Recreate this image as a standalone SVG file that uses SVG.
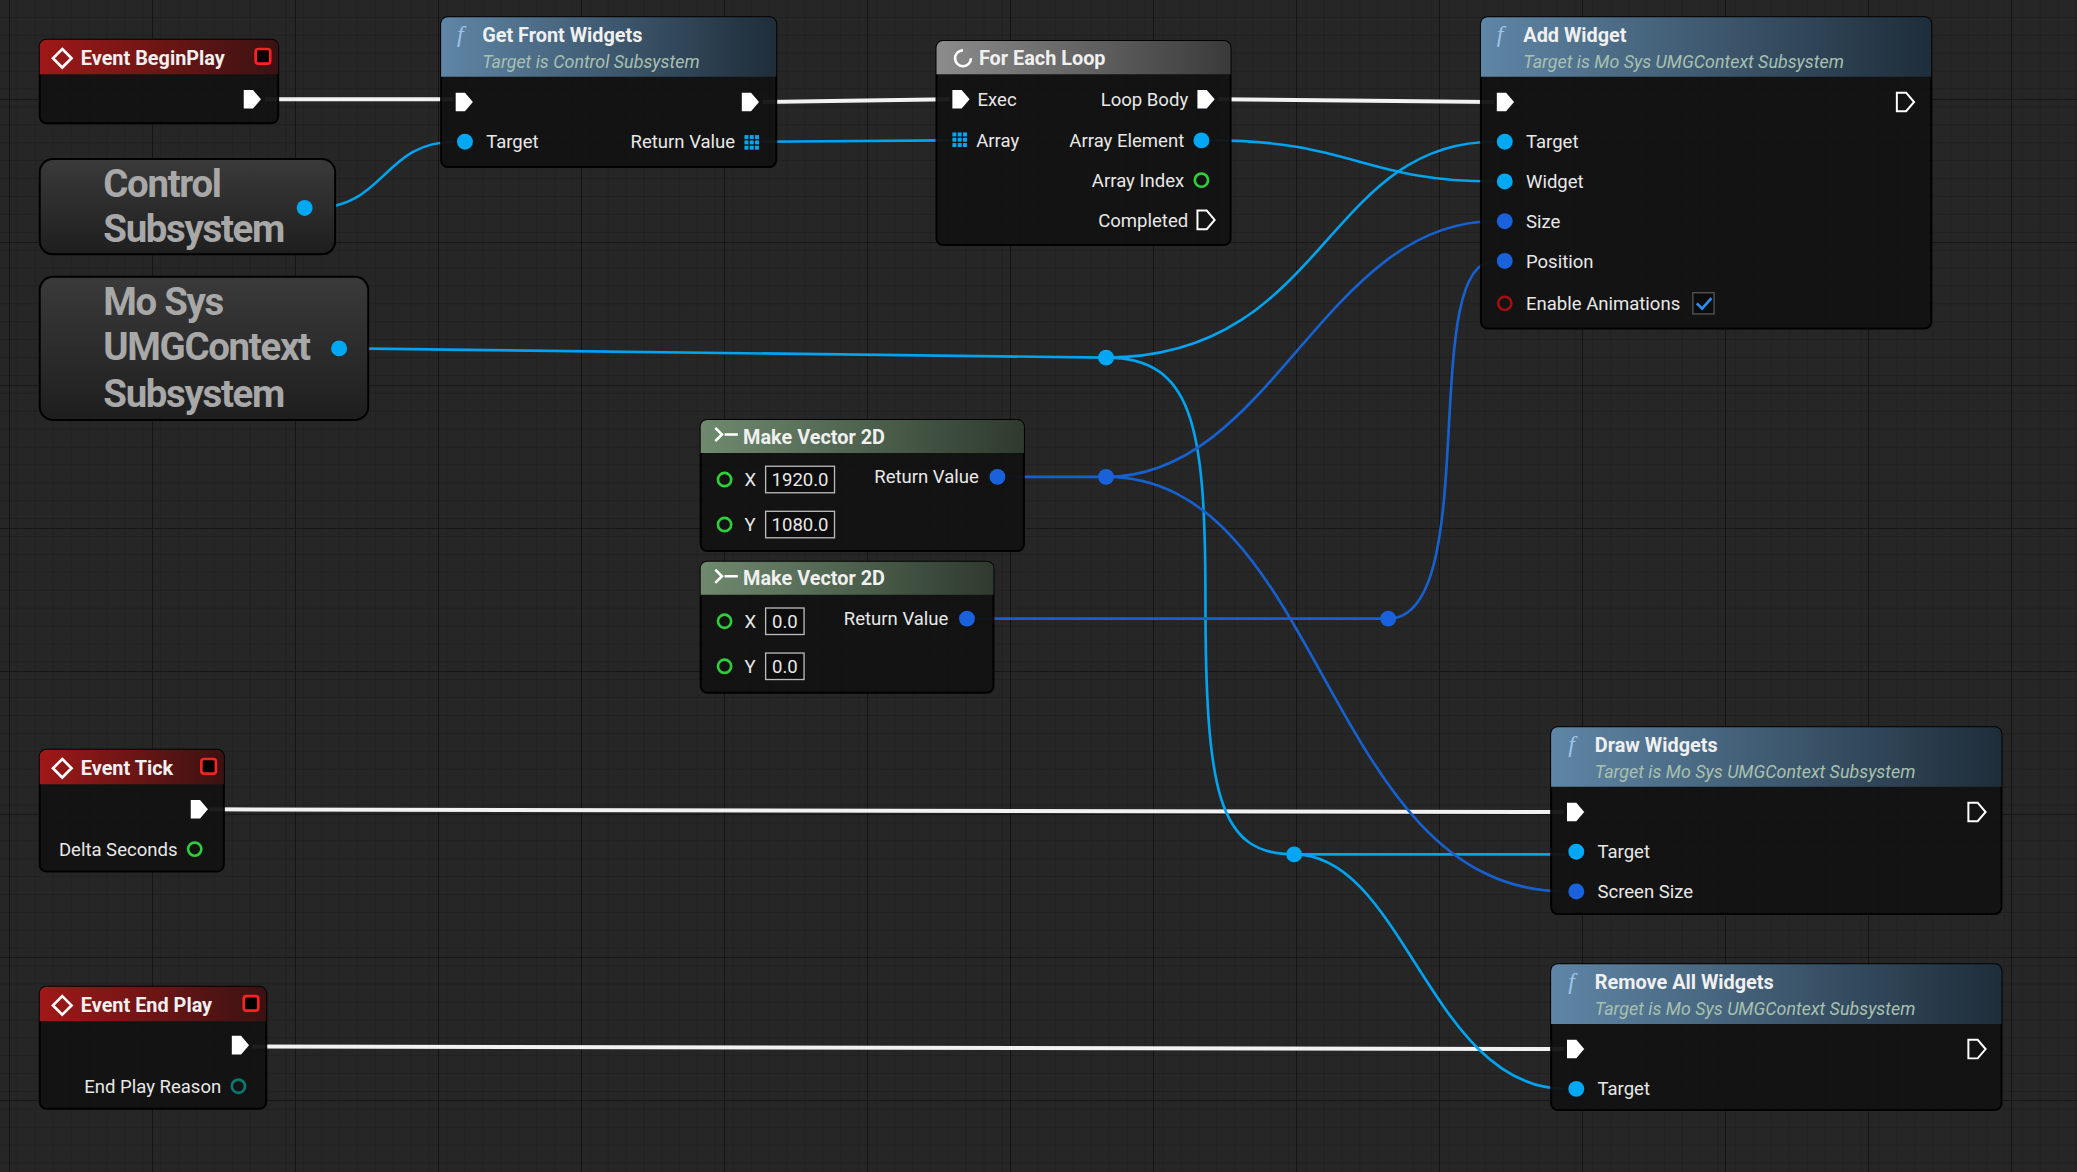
<svg xmlns="http://www.w3.org/2000/svg" width="2077" height="1172" viewBox="0 0 2077 1172">
<defs>
<pattern id="g1" width="17.9" height="17.9" patternUnits="userSpaceOnUse"><path d="M17.9 0V17.9H0" fill="none" stroke="#1c1c1c" stroke-width="1"/></pattern>
<pattern id="g2" width="143" height="143" patternUnits="userSpaceOnUse" x="10" y="-43"><path d="M143 0V143H0" fill="none" stroke="#111" stroke-width="1.6"/></pattern>
<linearGradient id="hr" x1="0" x2="1"><stop offset="0" stop-color="#a01818"/><stop offset="1" stop-color="#3a1212"/></linearGradient>
<linearGradient id="hb" x1="0" x2="1"><stop offset="0" stop-color="#5f86a6"/><stop offset="1" stop-color="#1e2d3a"/></linearGradient>
<linearGradient id="hg" x1="0" x2="1"><stop offset="0" stop-color="#8c8c8c"/><stop offset="1" stop-color="#3a3a3a"/></linearGradient>
<linearGradient id="hv" x1="0" x2="1"><stop offset="0" stop-color="#6f8a6f"/><stop offset="1" stop-color="#2e3a2e"/></linearGradient>
<linearGradient id="bg" x1="0" y1="0" x2="0" y2="1"><stop offset="0" stop-color="#3a3a3a"/><stop offset="1" stop-color="#1e1e1e"/></linearGradient>
<path id="ex" d="M-6-7H1L7 0 1 7H-6Z"/>
</defs>
<style>
.nb{fill:#121212;stroke:#000;stroke-width:1.5;opacity:0.95}
.t{font-family:Roboto,"Noto Sans",sans-serif;font-size:14px;fill:#e8e8e8}
.h{font-family:Roboto,"Noto Sans",sans-serif;font-size:15px;font-weight:bold;fill:#f0f0f0}
.s{font-family:Roboto,"Noto Sans",sans-serif;font-size:13.5px;font-style:italic;fill:#a8c0b0}
.big{font-family:Roboto,"Noto Sans",sans-serif;font-size:29px;font-weight:bold;fill:#a8a8a8;letter-spacing:-1px}
.w{fill:none;stroke:#f2f2f2;stroke-width:3}
.o{fill:none;stroke:#00a3f0;stroke-width:2}
.v{fill:none;stroke:#1760d0;stroke-width:2}
.po{fill:#00a8f4}.pv{fill:#1a62dc}.pe{fill:#fff}
.fn{font-family:"Liberation Serif",serif;font-style:italic;font-size:18px;fill:#9ec4e8}
.box{fill:#0c0c0c;stroke:#bbb;stroke-width:1}
</style>
<rect width="2077" height="1172" fill="#262626"/>
<rect width="2077" height="1172" fill="url(#g1)"/>
<rect width="2077" height="1172" fill="url(#g2)"/>
<g transform="scale(1.32462)">
<g id="connectors">
<path class="w" d="M200 75H342"/>
<path class="w" d="M576 77L717 75"/>
<path class="w" d="M920 75L1128 77"/>
<path class="w" d="M158 611L1181 613"/>
<path class="w" d="M190 790L1181 792"/>
<path class="o" d="M238 157C290 157 290 107 343 107"/>
<path class="o" d="M575 107L717 106"/>
<path class="o" d="M915 106C1020 106 1030 137 1128 137"/>
<path class="o" d="M263 263L835 270"/>
<path class="o" d="M835 270C1000 270 1000 107 1128 107"/>
<path class="o" d="M835 270C900 270 910 320 910 450C910 600 920 645 977 645"/>
<path class="o" d="M977 645H1182"/>
<path class="o" d="M977 645C1060 645 1080 822 1182 822"/>
<path class="v" d="M760 360H835"/>
<path class="v" d="M835 360C960 360 1000 167 1128 167"/>
<path class="v" d="M835 360C1000 360 1000 673 1182 673"/>
<path class="v" d="M737 467H1048"/>
<path class="v" d="M1048 467C1120 467 1070 197 1128 197"/>
<circle class="po" cx="835" cy="270" r="6"/>
<circle class="po" cx="977" cy="645" r="6"/>
<circle class="pv" cx="835" cy="360" r="6"/>
<circle class="pv" cx="1048" cy="467" r="6"/>
</g>
<g id="beginplay">
<rect class="nb" x="30" y="30" width="180" height="63" rx="5"/>
<path d="M35 30H205a5 5 0 0 1 5 5V56H30V35a5 5 0 0 1 5-5Z" fill="url(#hr)"/>
<path d="M47 37l7 7-7 7-7-7Z" fill="none" stroke="#fff" stroke-width="2"/>
<text class="h" x="61" y="49">Event BeginPlay</text>
<rect x="193" y="37" width="11" height="11" rx="2" fill="#000" stroke="#f22" stroke-width="2"/>
<use href="#ex" x="190" y="75" class="pe"/>
</g>
<g id="control">
<rect x="30" y="120" width="223" height="72" rx="10" fill="url(#bg)" stroke="#000" stroke-width="1.5"/>
<text class="big" x="78" y="149">Control</text>
<text class="big" x="78" y="183">Subsystem</text>
<circle class="po" cx="230" cy="157" r="6"/>
</g>
<g id="mosys">
<rect x="30" y="209" width="248" height="108" rx="10" fill="url(#bg)" stroke="#000" stroke-width="1.5"/>
<text class="big" x="78" y="238">Mo Sys</text>
<text class="big" x="78" y="272">UMGContext</text>
<text class="big" x="78" y="307">Subsystem</text>
<circle class="po" cx="256" cy="263" r="6"/>
</g>
<g id="getfront">
<rect class="nb" x="333" y="13" width="253" height="113" rx="5"/>
<path d="M338 13H581a5 5 0 0 1 5 5V58H333V18a5 5 0 0 1 5-5Z" fill="url(#hb)"/>
<text class="fn" x="345" y="32">f</text>
<text class="h" x="364" y="32">Get Front Widgets</text>
<text class="s" x="364" y="51">Target is Control Subsystem</text>
<use href="#ex" x="350" y="77" class="pe"/><use href="#ex" x="566" y="77" class="pe"/>
<circle class="po" cx="351" cy="107" r="6"/>
<text class="t" x="367" y="112">Target</text>
<text class="t" x="555" y="112" text-anchor="end">Return Value</text>
<g fill="#00a8f4"><rect x="562" y="102" width="3" height="3"/><rect x="566" y="102" width="3" height="3"/><rect x="570" y="102" width="3" height="3"/><rect x="562" y="106" width="3" height="3"/><rect x="566" y="106" width="3" height="3"/><rect x="570" y="106" width="3" height="3"/><rect x="562" y="110" width="3" height="3"/><rect x="566" y="110" width="3" height="3"/><rect x="570" y="110" width="3" height="3"/></g>
</g>
<g id="foreach">
<rect class="nb" x="707" y="31" width="222" height="154" rx="5"/>
<path d="M712 31H924a5 5 0 0 1 5 5V56H707V36a5 5 0 0 1 5-5Z" fill="url(#hg)"/>
<path d="M727 38a6 6 0 1 0 6 6" fill="none" stroke="#fff" stroke-width="2"/>
<text class="h" x="739" y="49">For Each Loop</text>
<use href="#ex" x="725" y="75" class="pe"/><text class="t" x="738" y="80">Exec</text>
<use href="#ex" x="910" y="75" class="pe"/><text class="t" x="897" y="80" text-anchor="end">Loop Body</text>
<g fill="#00a8f4"><rect x="719" y="100" width="3" height="3"/><rect x="723" y="100" width="3" height="3"/><rect x="727" y="100" width="3" height="3"/><rect x="719" y="104" width="3" height="3"/><rect x="723" y="104" width="3" height="3"/><rect x="727" y="104" width="3" height="3"/><rect x="719" y="108" width="3" height="3"/><rect x="723" y="108" width="3" height="3"/><rect x="727" y="108" width="3" height="3"/></g>
<text class="t" x="737" y="111">Array</text>
<circle class="po" cx="907" cy="106" r="6"/><text class="t" x="894" y="111" text-anchor="end">Array Element</text>
<circle cx="907" cy="136" r="5" fill="none" stroke="#2ed03a" stroke-width="2"/><text class="t" x="894" y="141" text-anchor="end">Array Index</text>
<use href="#ex" x="910" y="166" fill="none" stroke="#fff" stroke-width="1.5"/><text class="t" x="897" y="171" text-anchor="end">Completed</text>
</g>
<g id="addwidget">
<rect class="nb" x="1118" y="13" width="340" height="235" rx="5"/>
<path d="M1123 13H1453a5 5 0 0 1 5 5V58H1118V18a5 5 0 0 1 5-5Z" fill="url(#hb)"/>
<text class="fn" x="1130" y="32">f</text>
<text class="h" x="1150" y="32">Add Widget</text>
<text class="s" x="1150" y="51">Target is Mo Sys UMGContext Subsystem</text>
<use href="#ex" x="1136" y="77" class="pe"/>
<use href="#ex" x="1438" y="77" fill="none" stroke="#fff" stroke-width="1.5"/>
<circle class="po" cx="1136" cy="107" r="6"/><text class="t" x="1152" y="112">Target</text>
<circle class="po" cx="1136" cy="137" r="6"/><text class="t" x="1152" y="142">Widget</text>
<circle class="pv" cx="1136" cy="167" r="6"/><text class="t" x="1152" y="172">Size</text>
<circle class="pv" cx="1136" cy="197" r="6"/><text class="t" x="1152" y="202">Position</text>
<circle cx="1136" cy="229" r="5" fill="none" stroke="#a01010" stroke-width="2"/><text class="t" x="1152" y="234">Enable Animations</text>
<rect x="1278" y="221" width="16" height="16" fill="#0c0c0c" stroke="#555"/>
<path d="M1281 229l4 4 7-8" fill="none" stroke="#2a8ff0" stroke-width="2"/>
</g>
<g id="vec1">
<rect class="nb" x="529" y="317" width="244" height="99" rx="5"/>
<path d="M534 317H768a5 5 0 0 1 5 5V342H529V322a5 5 0 0 1 5-5Z" fill="url(#hv)"/>
<path d="M540 323l5 5-5 5M547 328h10" fill="none" stroke="#fff" stroke-width="2"/>
<text class="h" x="561" y="335">Make Vector 2D</text>
<circle cx="547" cy="362" r="5" fill="none" stroke="#2ed03a" stroke-width="2"/><text class="t" x="562" y="367">X</text>
<rect class="box" x="578" y="352" width="52" height="20"/><text class="t" x="604" y="367" text-anchor="middle" fill="#ccc">1920.0</text>
<circle cx="547" cy="396" r="5" fill="none" stroke="#2ed03a" stroke-width="2"/><text class="t" x="562" y="401">Y</text>
<rect class="box" x="578" y="386" width="52" height="20"/><text class="t" x="604" y="401" text-anchor="middle" fill="#ccc">1080.0</text>
<circle class="pv" cx="753" cy="360" r="6"/><text class="t" x="739" y="365" text-anchor="end">Return Value</text>
</g>
<g id="vec2">
<rect class="nb" x="529" y="424" width="221" height="99" rx="5"/>
<path d="M534 424H745a5 5 0 0 1 5 5V449H529V429a5 5 0 0 1 5-5Z" fill="url(#hv)"/>
<path d="M540 430l5 5-5 5M547 435h10" fill="none" stroke="#fff" stroke-width="2"/>
<text class="h" x="561" y="442">Make Vector 2D</text>
<circle cx="547" cy="469" r="5" fill="none" stroke="#2ed03a" stroke-width="2"/><text class="t" x="562" y="474">X</text>
<rect class="box" x="578" y="459" width="29" height="20"/><text class="t" x="592.5" y="474" text-anchor="middle" fill="#ccc">0.0</text>
<circle cx="547" cy="503" r="5" fill="none" stroke="#2ed03a" stroke-width="2"/><text class="t" x="562" y="508">Y</text>
<rect class="box" x="578" y="493" width="29" height="20"/><text class="t" x="592.5" y="508" text-anchor="middle" fill="#ccc">0.0</text>
<circle class="pv" cx="730" cy="467" r="6"/><text class="t" x="716" y="472" text-anchor="end">Return Value</text>
</g>
<g id="tick">
<rect class="nb" x="30" y="566" width="139" height="92" rx="5"/>
<path d="M35 566H164a5 5 0 0 1 5 5V592H30V571a5 5 0 0 1 5-5Z" fill="url(#hr)"/>
<path d="M47 573l7 7-7 7-7-7Z" fill="none" stroke="#fff" stroke-width="2"/>
<text class="h" x="61" y="585">Event Tick</text>
<rect x="152" y="573" width="11" height="11" rx="2" fill="#000" stroke="#f22" stroke-width="2"/>
<use href="#ex" x="150" y="611" class="pe"/>
<text class="t" x="134" y="646" text-anchor="end">Delta Seconds</text>
<circle cx="147" cy="641" r="5" fill="none" stroke="#2ed03a" stroke-width="2"/>
</g>
<g id="draw">
<rect class="nb" x="1171" y="549" width="340" height="141" rx="5"/>
<path d="M1176 549H1506a5 5 0 0 1 5 5V594H1171V554a5 5 0 0 1 5-5Z" fill="url(#hb)"/>
<text class="fn" x="1184" y="568">f</text>
<text class="h" x="1204" y="568">Draw Widgets</text>
<text class="s" x="1204" y="587">Target is Mo Sys UMGContext Subsystem</text>
<use href="#ex" x="1189" y="613" class="pe"/>
<use href="#ex" x="1492" y="613" fill="none" stroke="#fff" stroke-width="1.5"/>
<circle class="po" cx="1190" cy="643" r="6"/><text class="t" x="1206" y="648">Target</text>
<circle class="pv" cx="1190" cy="673" r="6"/><text class="t" x="1206" y="678">Screen Size</text>
</g>
<g id="endplay">
<rect class="nb" x="30" y="745" width="171" height="92" rx="5"/>
<path d="M35 745H196a5 5 0 0 1 5 5V771H30V750a5 5 0 0 1 5-5Z" fill="url(#hr)"/>
<path d="M47 752l7 7-7 7-7-7Z" fill="none" stroke="#fff" stroke-width="2"/>
<text class="h" x="61" y="764">Event End Play</text>
<rect x="184" y="752" width="11" height="11" rx="2" fill="#000" stroke="#f22" stroke-width="2"/>
<use href="#ex" x="181" y="789" class="pe"/>
<text class="t" x="167" y="825" text-anchor="end">End Play Reason</text>
<circle cx="180" cy="820" r="5" fill="none" stroke="#0a7a70" stroke-width="2"/>
</g>
<g id="removeall">
<rect class="nb" x="1171" y="728" width="340" height="110" rx="5"/>
<path d="M1176 728H1506a5 5 0 0 1 5 5V773H1171V733a5 5 0 0 1 5-5Z" fill="url(#hb)"/>
<text class="fn" x="1184" y="747">f</text>
<text class="h" x="1204" y="747">Remove All Widgets</text>
<text class="s" x="1204" y="766">Target is Mo Sys UMGContext Subsystem</text>
<use href="#ex" x="1189" y="792" class="pe"/>
<use href="#ex" x="1492" y="792" fill="none" stroke="#fff" stroke-width="1.5"/>
<circle class="po" cx="1190" cy="822" r="6"/><text class="t" x="1206" y="827">Target</text>
</g>
</g>
</svg>
